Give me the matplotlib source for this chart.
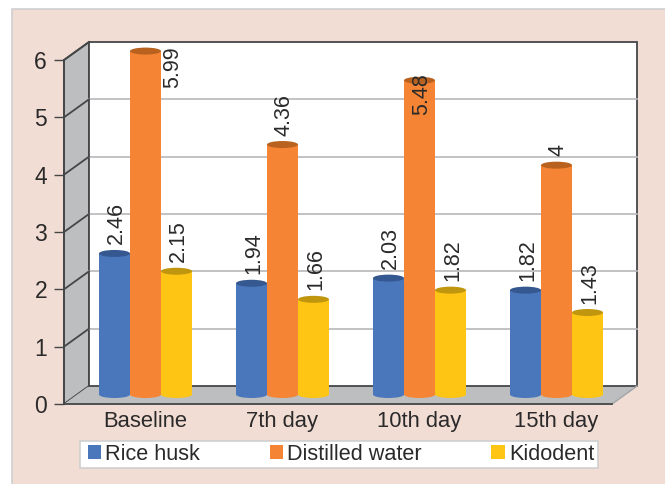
import matplotlib.pyplot as plt
from matplotlib.patches import Ellipse, Polygon, Rectangle

plt.rcParams['font.family'] = ['Liberation Sans', 'DejaVu Sans']

categories = ['Baseline', '7th day', '10th day', '15th day']
rice_husk = [2.46, 1.94, 2.03, 1.82]
distilled_water = [5.99, 4.36, 5.48, 4]
kidodent = [2.15, 1.66, 1.82, 1.43]
series_names = ['Rice husk', 'Distilled water', 'Kidodent']
series_values = [rice_husk, distilled_water, kidodent]
colors = ['#4a76bb', '#f58434', '#fec514']
top_colors = ['#34588f', '#b9621f', '#c1960f']
yticks = [0, 1, 2, 3, 4, 5, 6]

W, H = 665, 484
text_col = '#2b2a2a'
line_col = '#454648'
wall_col = '#bcbec0'

fig = plt.figure(figsize=(W / 100, H / 100), dpi=100, facecolor='white')
fig.add_artist(Rectangle((12 / W, -0.01), 1, 1 - 9.5 / H + 0.01, transform=fig.transFigure,
                         facecolor='#f2ddd5', edgecolor='#cfcfcf', lw=1.2, zorder=-1))

ax = fig.add_axes([64 / W, 1 - 404 / H, 548 / W, 344 / H])
ax.patch.set_alpha(0)
ax.set_xlim(-0.5, 3.5)
ax.set_ylim(0, 6)

# px -> data units
ux = 137.0
uy = 344 / 6
depth_x = 25 / ux
depth_y = 18 / uy
x0, x1 = -0.5, 3.5

# side wall, floor, back wall
ax.add_patch(Polygon([(x0, 0), (x0 + depth_x, depth_y), (x0 + depth_x, 6 + depth_y), (x0, 6)],
                     facecolor=wall_col, edgecolor=line_col, lw=1.3, clip_on=False, zorder=1))
ax.add_patch(Polygon([(x0, 0), (x1, 0), (x1 + depth_x, depth_y), (x0 + depth_x, depth_y)],
                     facecolor=wall_col, edgecolor='none', clip_on=False, zorder=1))
ax.add_patch(Rectangle((x0 + depth_x, depth_y), 4, 6, facecolor='white', edgecolor=line_col,
                       lw=1.3, clip_on=False, zorder=1))
ax.plot([x1, x1 + depth_x], [0, depth_y], color='#a5a6a8', lw=1.1, clip_on=False, zorder=2)
for t in yticks[1:-1]:
    ax.plot([x0 + depth_x, x1 + depth_x], [t + depth_y, t + depth_y], color='#b7b8ba', lw=1.2,
            clip_on=False, zorder=2)
for t in yticks[1:]:
    ax.plot([x0, x0 + depth_x], [t, t + depth_y], color=line_col, lw=1.3, clip_on=False, zorder=2)

# cylinders
bar_w = 31 / ux
base_x = 13 / ux
base_y = 9.5 / uy
ell_h = 7 / uy
z = 3
for i, vals in enumerate(series_values):
    for j, v in enumerate(vals):
        cx = j + base_x + (i - 1) * bar_w
        ax.add_patch(Ellipse((cx, base_y), bar_w, ell_h, facecolor=colors[i], edgecolor='none',
                             clip_on=False, zorder=z))
        ax.bar(cx, v, bar_w, bottom=base_y, color=colors[i], edgecolor='none', zorder=z, clip_on=False)
        ax.add_patch(Ellipse((cx, base_y + v), bar_w, ell_h, facecolor=top_colors[i], edgecolor='none',
                             clip_on=False, zorder=z + 0.5))

# value labels, rotated like the original
for i, vals in enumerate(series_values):
    for j, v in enumerate(vals):
        cx = j + base_x + (i - 1) * bar_w
        off = (2, 9)
        va = 'bottom'
        if v == 5.99:
            off = (27, 5)
            va = 'top'
        if v == 5.48:
            off = (2, 7)
            va = 'top'
        ax.annotate(str(v), (cx, base_y + v), xytext=(off[0] * 0.72, off[1] * 0.72),
                    textcoords='offset points', rotation=90, ha='center', va=va,
                    fontsize=15.5, color=text_col, zorder=6, annotation_clip=False)

ax.set_xticks([j + base_x for j in range(4)])
ax.set_xticklabels(categories, fontsize=15.8, color=text_col)
ax.tick_params(axis='x', length=0, pad=5)
ax.set_yticks(yticks)
ax.tick_params(axis='y', length=7.2, width=1, color=line_col, labelsize=16.5, labelcolor=text_col, pad=5)
for s in ['top', 'right']:
    ax.spines[s].set_visible(False)
ax.spines['left'].set_color(line_col)
ax.spines['bottom'].set_color(line_col)
ax.spines['left'].set_linewidth(1.3)
ax.spines['bottom'].set_linewidth(1.3)
ax.spines['left'].set_zorder(2)

# legend box is narrower in height than the font padding allows, so drawn apart
fig.add_artist(Rectangle((80 / W, 1 - 468 / H), 518 / W, 27 / H, transform=fig.transFigure,
                         facecolor='white', edgecolor='#cfcfcf', lw=1.2, zorder=1))
handles = [Rectangle((0, 0), 1, 1, facecolor=c, edgecolor='none') for c in colors]
fig.legend(handles, series_names, loc='center', bbox_to_anchor=(341 / W, 1 - 454.5 / H), ncol=3,
           fontsize=15.6, frameon=False, handlelength=0.62, handleheight=0.62, handletextpad=0.2,
           columnspacing=3.2, labelcolor=text_col, borderpad=0.28)

fig.savefig('out.png', dpi=100)
